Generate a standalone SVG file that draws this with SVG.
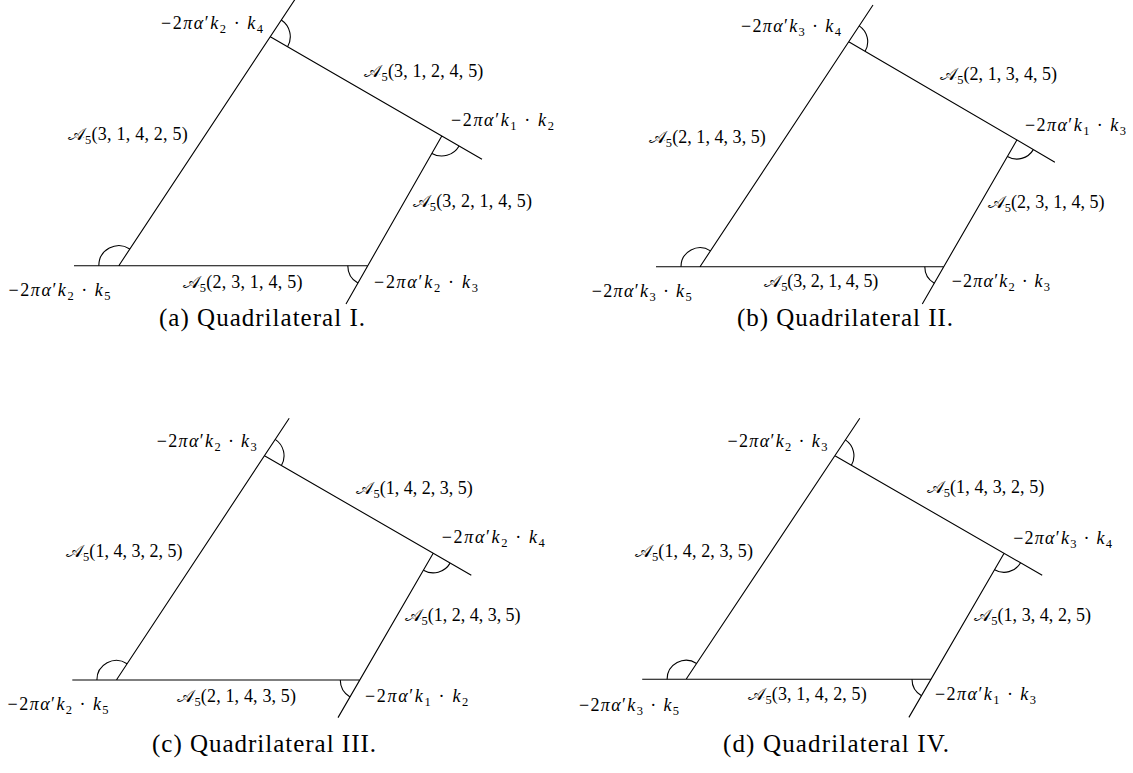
<svg xmlns="http://www.w3.org/2000/svg" width="1133" height="773" viewBox="0 0 1133 773">
<style>
.ln{fill:none;stroke:#000;stroke-width:1.1}
.lb{font-family:"Liberation Serif","DejaVu Serif",serif;font-size:18px;fill:#000}
.i{font-style:italic}
.s{font-size:12.5px}
.cap{font-family:"Liberation Serif","DejaVu Serif",serif;font-size:25px;fill:#000}
</style>
<rect width="1133" height="773" fill="#fff"/>

<g id="connectors">
<!-- panel a -->
<path class="ln" d="M74,265.7 H367.8 M118.8,265.7 L295.1,-0.8 M270.3,36.7 L482,159.3 M441.8,136 L346,303.9"/>
<path class="ln" d="M281.3,20 A20,20 0 0 1 287.6,46.7 M459.1,146 A20,20 0 0 1 431.9,153.4 M347.8,265.7 A20,20 0 0 0 357.9,283.1 M98.8,265.7 A20,20 0 0 1 129.8,249"/>
<!-- panel b -->
<path class="ln" d="M656,266.7 H943.8 M700,266.7 L873,5 M848.7,41.7 L1054.9,162.2 M1016.9,140 L922.3,303.9"/>
<path class="ln" d="M859.2,25.9 A19,19 0 0 1 865.1,51.3 M1033.3,149.6 A19,19 0 0 1 1007.4,156.5 M924.8,266.7 A19,19 0 0 0 934.3,283.2 M681,266.7 A19,19 0 0 1 710.5,250.9"/>
<!-- panel c -->
<path class="ln" d="M72.3,680 H359.8 M116.4,680 L289.2,418.3 M264.5,455.7 L471.3,575.3 M433.2,553.3 L338,717.6"/>
<path class="ln" d="M275.2,439.4 A19.5,19.5 0 0 1 281.4,465.5 M450.1,563.1 A19.5,19.5 0 0 1 423.4,570.2 M340.3,680 A19.5,19.5 0 0 0 350,696.9 M96.9,680 A19.5,19.5 0 0 1 127.1,663.7"/>
<!-- panel d -->
<path class="ln" d="M642.2,679.3 H931 M686.1,679.3 L859.8,418.2 M834.9,455.7 L1042.2,575.3 M1004.1,553.3 L908.9,717.4"/>
<path class="ln" d="M845.4,439.9 A19,19 0 0 1 851.4,465.2 M1020.6,562.8 A19,19 0 0 1 994.6,569.7 M912,679.3 A19,19 0 0 0 921.5,695.7 M667.1,679.3 A19,19 0 0 1 696.6,663.5"/>
</g>

<g id="panel-a">
<text class="lb" x="161" y="29" textLength="102" lengthAdjust="spacing">−2<tspan class="i">πα</tspan>′<tspan class="i">k</tspan><tspan class="s" dy="4">2</tspan><tspan dy="-4"> · </tspan><tspan class="i">k</tspan><tspan class="s" dy="4">4</tspan></text>
<text class="lb" x="364.3" y="77" textLength="119" lengthAdjust="spacing">𝒜<tspan class="s" dy="4">5</tspan><tspan dy="-4">(3, 1, 2, 4, 5)</tspan></text>
<text class="lb" x="451" y="126" textLength="103" lengthAdjust="spacing">−2<tspan class="i">πα</tspan>′<tspan class="i">k</tspan><tspan class="s" dy="4">1</tspan><tspan dy="-4"> · </tspan><tspan class="i">k</tspan><tspan class="s" dy="4">2</tspan></text>
<text class="lb" x="67.8" y="140" textLength="120" lengthAdjust="spacing">𝒜<tspan class="s" dy="4">5</tspan><tspan dy="-4">(3, 1, 4, 2, 5)</tspan></text>
<text class="lb" x="412.5" y="206.7" textLength="119.5" lengthAdjust="spacing">𝒜<tspan class="s" dy="4">5</tspan><tspan dy="-4">(3, 2, 1, 4, 5)</tspan></text>
<text class="lb" x="182.5" y="288" textLength="120" lengthAdjust="spacing">𝒜<tspan class="s" dy="4">5</tspan><tspan dy="-4">(2, 3, 1, 4, 5)</tspan></text>
<text class="lb" x="374" y="288" textLength="104" lengthAdjust="spacing">−2<tspan class="i">πα</tspan>′<tspan class="i">k</tspan><tspan class="s" dy="4">2</tspan><tspan dy="-4"> · </tspan><tspan class="i">k</tspan><tspan class="s" dy="4">3</tspan></text>
<text class="lb" x="8.6" y="296" textLength="102" lengthAdjust="spacing">−2<tspan class="i">πα</tspan>′<tspan class="i">k</tspan><tspan class="s" dy="4">2</tspan><tspan dy="-4"> · </tspan><tspan class="i">k</tspan><tspan class="s" dy="4">5</tspan></text>
<text class="cap" x="262" y="326" text-anchor="middle" textLength="206" lengthAdjust="spacing">(a) Quadrilateral I.</text>
</g>

<g id="panel-b">
<text class="lb" x="740.9" y="32.3" textLength="100" lengthAdjust="spacing">−2<tspan class="i">πα</tspan>′<tspan class="i">k</tspan><tspan class="s" dy="4">3</tspan><tspan dy="-4"> · </tspan><tspan class="i">k</tspan><tspan class="s" dy="4">4</tspan></text>
<text class="lb" x="940.1" y="80" textLength="117" lengthAdjust="spacing">𝒜<tspan class="s" dy="4">5</tspan><tspan dy="-4">(2, 1, 3, 4, 5)</tspan></text>
<text class="lb" x="1024.9" y="130.7" textLength="101" lengthAdjust="spacing">−2<tspan class="i">πα</tspan>′<tspan class="i">k</tspan><tspan class="s" dy="4">1</tspan><tspan dy="-4"> · </tspan><tspan class="i">k</tspan><tspan class="s" dy="4">3</tspan></text>
<text class="lb" x="648.8" y="143.3" textLength="117" lengthAdjust="spacing">𝒜<tspan class="s" dy="4">5</tspan><tspan dy="-4">(2, 1, 4, 3, 5)</tspan></text>
<text class="lb" x="987.6" y="208.3" textLength="117" lengthAdjust="spacing">𝒜<tspan class="s" dy="4">5</tspan><tspan dy="-4">(2, 3, 1, 4, 5)</tspan></text>
<text class="lb" x="764.3" y="287" textLength="114" lengthAdjust="spacing">𝒜<tspan class="s" dy="4">5</tspan><tspan dy="-4">(3, 2, 1, 4, 5)</tspan></text>
<text class="lb" x="951.7" y="287" textLength="98.3" lengthAdjust="spacing">−2<tspan class="i">πα</tspan>′<tspan class="i">k</tspan><tspan class="s" dy="4">2</tspan><tspan dy="-4"> · </tspan><tspan class="i">k</tspan><tspan class="s" dy="4">3</tspan></text>
<text class="lb" x="591.7" y="296.5" textLength="100" lengthAdjust="spacing">−2<tspan class="i">πα</tspan>′<tspan class="i">k</tspan><tspan class="s" dy="4">3</tspan><tspan dy="-4"> · </tspan><tspan class="i">k</tspan><tspan class="s" dy="4">5</tspan></text>
<text class="cap" x="845" y="326" text-anchor="middle" textLength="216" lengthAdjust="spacing">(b) Quadrilateral II.</text>
</g>

<g id="panel-c">
<text class="lb" x="156.7" y="446.7" textLength="100" lengthAdjust="spacing">−2<tspan class="i">πα</tspan>′<tspan class="i">k</tspan><tspan class="s" dy="4">2</tspan><tspan dy="-4"> · </tspan><tspan class="i">k</tspan><tspan class="s" dy="4">3</tspan></text>
<text class="lb" x="356.4" y="494.3" textLength="116.4" lengthAdjust="spacing">𝒜<tspan class="s" dy="4">5</tspan><tspan dy="-4">(1, 4, 2, 3, 5)</tspan></text>
<text class="lb" x="441.8" y="543.3" textLength="103" lengthAdjust="spacing">−2<tspan class="i">πα</tspan>′<tspan class="i">k</tspan><tspan class="s" dy="4">2</tspan><tspan dy="-4"> · </tspan><tspan class="i">k</tspan><tspan class="s" dy="4">4</tspan></text>
<text class="lb" x="66.1" y="556.7" textLength="116.4" lengthAdjust="spacing">𝒜<tspan class="s" dy="4">5</tspan><tspan dy="-4">(1, 4, 3, 2, 5)</tspan></text>
<text class="lb" x="404.6" y="621" textLength="116" lengthAdjust="spacing">𝒜<tspan class="s" dy="4">5</tspan><tspan dy="-4">(1, 2, 4, 3, 5)</tspan></text>
<text class="lb" x="177.3" y="701.7" textLength="118.7" lengthAdjust="spacing">𝒜<tspan class="s" dy="4">5</tspan><tspan dy="-4">(2, 1, 4, 3, 5)</tspan></text>
<text class="lb" x="365" y="701.7" textLength="103.3" lengthAdjust="spacing">−2<tspan class="i">πα</tspan>′<tspan class="i">k</tspan><tspan class="s" dy="4">1</tspan><tspan dy="-4"> · </tspan><tspan class="i">k</tspan><tspan class="s" dy="4">2</tspan></text>
<text class="lb" x="7.6" y="710" textLength="101" lengthAdjust="spacing">−2<tspan class="i">πα</tspan>′<tspan class="i">k</tspan><tspan class="s" dy="4">2</tspan><tspan dy="-4"> · </tspan><tspan class="i">k</tspan><tspan class="s" dy="4">5</tspan></text>
<text class="cap" x="264" y="752" text-anchor="middle" textLength="224" lengthAdjust="spacing">(c) Quadrilateral III.</text>
</g>

<g id="panel-d">
<text class="lb" x="727.4" y="446.7" textLength="100" lengthAdjust="spacing">−2<tspan class="i">πα</tspan>′<tspan class="i">k</tspan><tspan class="s" dy="4">2</tspan><tspan dy="-4"> · </tspan><tspan class="i">k</tspan><tspan class="s" dy="4">3</tspan></text>
<text class="lb" x="926.6" y="493.3" textLength="117.7" lengthAdjust="spacing">𝒜<tspan class="s" dy="4">5</tspan><tspan dy="-4">(1, 4, 3, 2, 5)</tspan></text>
<text class="lb" x="1013.2" y="544" textLength="98.7" lengthAdjust="spacing">−2<tspan class="i">πα</tspan>′<tspan class="i">k</tspan><tspan class="s" dy="4">3</tspan><tspan dy="-4"> · </tspan><tspan class="i">k</tspan><tspan class="s" dy="4">4</tspan></text>
<text class="lb" x="634.9" y="556.7" textLength="118" lengthAdjust="spacing">𝒜<tspan class="s" dy="4">5</tspan><tspan dy="-4">(1, 4, 2, 3, 5)</tspan></text>
<text class="lb" x="974.1" y="620.7" textLength="117" lengthAdjust="spacing">𝒜<tspan class="s" dy="4">5</tspan><tspan dy="-4">(1, 3, 4, 2, 5)</tspan></text>
<text class="lb" x="748.3" y="700" textLength="118.4" lengthAdjust="spacing">𝒜<tspan class="s" dy="4">5</tspan><tspan dy="-4">(3, 1, 4, 2, 5)</tspan></text>
<text class="lb" x="935" y="700" textLength="101" lengthAdjust="spacing">−2<tspan class="i">πα</tspan>′<tspan class="i">k</tspan><tspan class="s" dy="4">1</tspan><tspan dy="-4"> · </tspan><tspan class="i">k</tspan><tspan class="s" dy="4">3</tspan></text>
<text class="lb" x="579" y="710.7" textLength="100" lengthAdjust="spacing">−2<tspan class="i">πα</tspan>′<tspan class="i">k</tspan><tspan class="s" dy="4">3</tspan><tspan dy="-4"> · </tspan><tspan class="i">k</tspan><tspan class="s" dy="4">5</tspan></text>
<text class="cap" x="836" y="752" text-anchor="middle" textLength="226" lengthAdjust="spacing">(d) Quadrilateral IV.</text>
</g>
</svg>
